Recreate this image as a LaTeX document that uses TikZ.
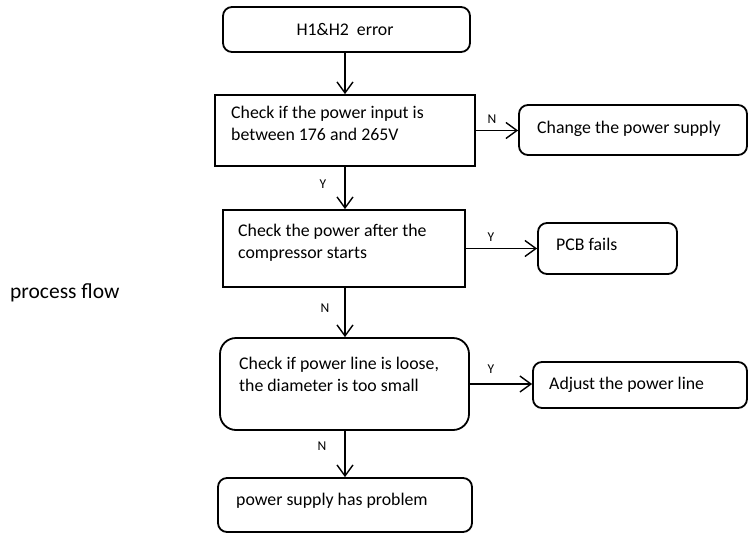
\documentclass[tikz,border=0pt]{standalone}
\usepackage{fontspec}
\setmainfont{Carlito}
\usetikzlibrary{arrows.meta}
\begin{document}
\begin{tikzpicture}[x=1pt,y=-1pt,
  sqbox/.style={draw, line width=1.8pt, inner sep=0pt},
  rbox/.style={draw, line width=1.8pt, inner sep=0pt, rounded corners=9pt},
  rrbox/.style={draw, line width=1.8pt, inner sep=0pt, rounded corners=16pt},
  txt/.style={inner sep=0pt, align=left, anchor=base west, font=\fontsize{17.8}{22}\selectfont},
  lbl/.style={inner sep=0pt, font=\fontsize{13.5}{15}\selectfont},
  conn/.style={line width=1.4pt, -{Straight Barb[length=11pt, width=16pt, line width=1.4pt]}}]
\useasboundingbox (0,0) rectangle (749,533);
% boxes
\node[rbox, minimum width=247pt, minimum height=45pt] (b1) at (346.5,29.5) {};
\node[sqbox, minimum width=260pt, minimum height=71pt] (b2) at (345,130.5) {};
\node[rbox, minimum width=228pt, minimum height=50pt] (b3) at (633,130) {};
\node[sqbox, minimum width=242pt, minimum height=77pt] (b4) at (344,248.5) {};
\node[rbox, minimum width=139pt, minimum height=51pt] (b5) at (607.5,248.5) {};
\node[rrbox, minimum width=249pt, minimum height=92pt] (b6) at (344.5,384) {};
\node[rbox, minimum width=214pt, minimum height=46pt] (b7) at (640,385) {};
\node[rbox, minimum width=254pt, minimum height=54pt] (b8) at (345,505) {};
% texts (anchor is the baseline of the last line)
\node[inner sep=0pt, font=\fontsize{17.8}{22}\selectfont] (t1) at (345,29) {H1\&H2\ \ error};
\node[txt] (t2) at (231,140) {Check if the power input is\\between 176 and 265V};
\node[txt] (t3) at (537,133) {Change the power supply};
\node[txt] (t4) at (238,258) {Check the power after the\\compressor starts};
\node[txt] (t5) at (556,250) {PCB fails};
\node[txt] (t6) at (239,391) {Check if power line is loose,\\the diameter is too small};
\node[txt] (t7) at (549,389) {Adjust the power line};
\node[txt] (t8) at (236,505) {power supply has problem};
\node[txt, font=\fontsize{21.5}{26}\selectfont] (pf) at (10,298) {process flow};
% connectors
\draw[conn] (b1.south -| 345,0) -- (b2.north -| 345,0);
\draw[conn] (b2.east) -- (b2.east -| b3.west);
\draw[conn] (b2.south -| 345,0) -- (b4.north -| 345,0);
\draw[conn] (b4.east) -- (b4.east -| b5.west);
\draw[conn] (b4.south -| 345,0) -- (b6.north -| 345,0);
\draw[conn] (b6.east) -- (b6.east -| b7.west);
\draw[conn] (b6.south -| 345,0) -- (b8.north -| 345,0);
% labels
\node[lbl] (l1) at (492,119) {N};
\node[lbl] (l2) at (323,184) {Y};
\node[lbl] (l3) at (491,237) {Y};
\node[lbl] (l4) at (325,308) {N};
\node[lbl] (l5) at (491,369) {Y};
\node[lbl] (l6) at (322,446) {N};
\end{tikzpicture}
\end{document}
